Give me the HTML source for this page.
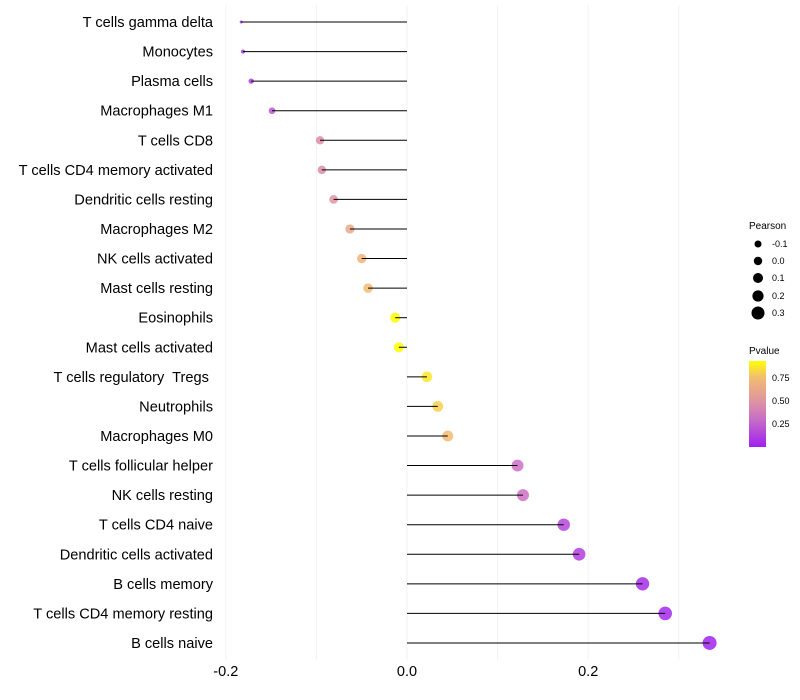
<!DOCTYPE html>
<html><head><meta charset="utf-8"><style>
body{margin:0;background:#fff;font-family:"Liberation Sans",sans-serif}
text{white-space:pre}
</style></head><body>
<svg id="chart" width="800" height="700" style="display:block">
<defs>
<linearGradient id="pg" x1="0" y1="1" x2="0" y2="0">
<stop offset="0" stop-color="#a020f0"/>
<stop offset="0.33" stop-color="#c870c4"/>
<stop offset="0.54" stop-color="#df95a0"/>
<stop offset="0.81" stop-color="#f2bd70"/>
<stop offset="1" stop-color="#ffff00"/>
</linearGradient>
</defs>
<g id="grid"></g><g id="marks"></g><g id="labels"></g>
<g font-size="9" fill="#000">
<text x="749" y="229" font-size="10">Pearson</text>
<circle cx="758" cy="244" r="3.5"/><text x="772" y="247">-0.1</text>
<circle cx="758" cy="261" r="4.2"/><text x="772" y="264">0.0</text>
<circle cx="758" cy="278" r="5"/><text x="772" y="281">0.1</text>
<circle cx="758" cy="296" r="5.6"/><text x="772" y="299">0.2</text>
<circle cx="758" cy="313" r="6.5"/><text x="772" y="316">0.3</text>
</g>
<g font-size="9">
<text x="749" y="354" font-size="10">Pvalue</text>
<rect x="749" y="361" width="17" height="86" fill="url(#pg)"/>
<text x="772" y="381">0.75</text><text x="772" y="404">0.50</text><text x="772" y="427">0.25</text>
</g>
</svg>
<script>
const categories=["T cells gamma delta","Monocytes","Plasma cells","Macrophages M1","T cells CD8","T cells CD4 memory activated","Dendritic cells resting","Macrophages M2","NK cells activated","Mast cells resting","Eosinophils","Mast cells activated","T cells regulatory  Tregs ","Neutrophils","Macrophages M0","T cells follicular helper","NK cells resting","T cells CD4 naive","Dendritic cells activated","B cells memory","T cells CD4 memory resting","B cells naive"];
const pearson=[-0.183,-0.181,-0.172,-0.149,-0.096,-0.094,-0.081,-0.063,-0.050,-0.043,-0.013,-0.009,0.022,0.034,0.045,0.122,0.128,0.173,0.190,0.260,0.285,0.334];
const pvalue=[0.08,0.08,0.1,0.2,0.45,0.45,0.5,0.62,0.7,0.74,0.92,0.92,0.86,0.8,0.74,0.3,0.3,0.15,0.12,0.05,0.03,0.01];
const xTicks=[-0.2,0,0.2];
const xTickLabels=["-0.2","0.0","0.2"];
const NS="http://www.w3.org/2000/svg";
const x=v=>407+v*906;
const y=i=>22+i*29.57;
const rad=v=>1.5+5.5*Math.pow(Math.max(0,(v+0.183)/0.517),0.4);
const stops=[[0,[160,32,240]],[0.3,[204,112,196]],[0.5,[223,149,160]],[0.75,[242,189,112]],[0.92,[255,255,0]]];
function col(p){p=Math.max(0,Math.min(0.92,p));for(let k=0;k<stops.length-1;k++){const[a,c1]=stops[k],[b,c2]=stops[k+1];if(p<=b){const t=(p-a)/(b-a);return "rgb("+c1.map((c,j)=>Math.round(c+(c2[j]-c)*t)).join(",")+")";}}return "rgb(255,255,0)";}
function mk(t,a,parent){const e=document.createElementNS(NS,t);for(const k in a)e.setAttribute(k,a[k]);document.getElementById(parent).appendChild(e);return e;}
[-0.2,-0.1,0,0.1,0.2,0.3].forEach(v=>{const g=mk("line",{x1:x(v),x2:x(v),y1:5,y2:660,stroke:"#f2f2f2","stroke-width":1},"grid");

});
xTicks.forEach((v,i)=>{const t=mk("text",{x:x(v),y:676,"text-anchor":"middle","font-size":"14.5",fill:"#000"},"labels");t.textContent=xTickLabels[i];

});
categories.forEach((c,i)=>{
const t=mk("text",{x:213,y:y(i)+5,"text-anchor":"end","font-size":"14.6",fill:"#000"},"labels");t.textContent=c;


const p=mk("circle",{cx:x(pearson[i]),cy:y(i),r:rad(pearson[i]),fill:col(pvalue[i]),"fill-opacity":0.85},"marks");


const l=mk("line",{x1:x(0),x2:x(pearson[i]),y1:y(i),y2:y(i),stroke:"#000","stroke-width":1},"marks");


});
</script>
</body></html>
